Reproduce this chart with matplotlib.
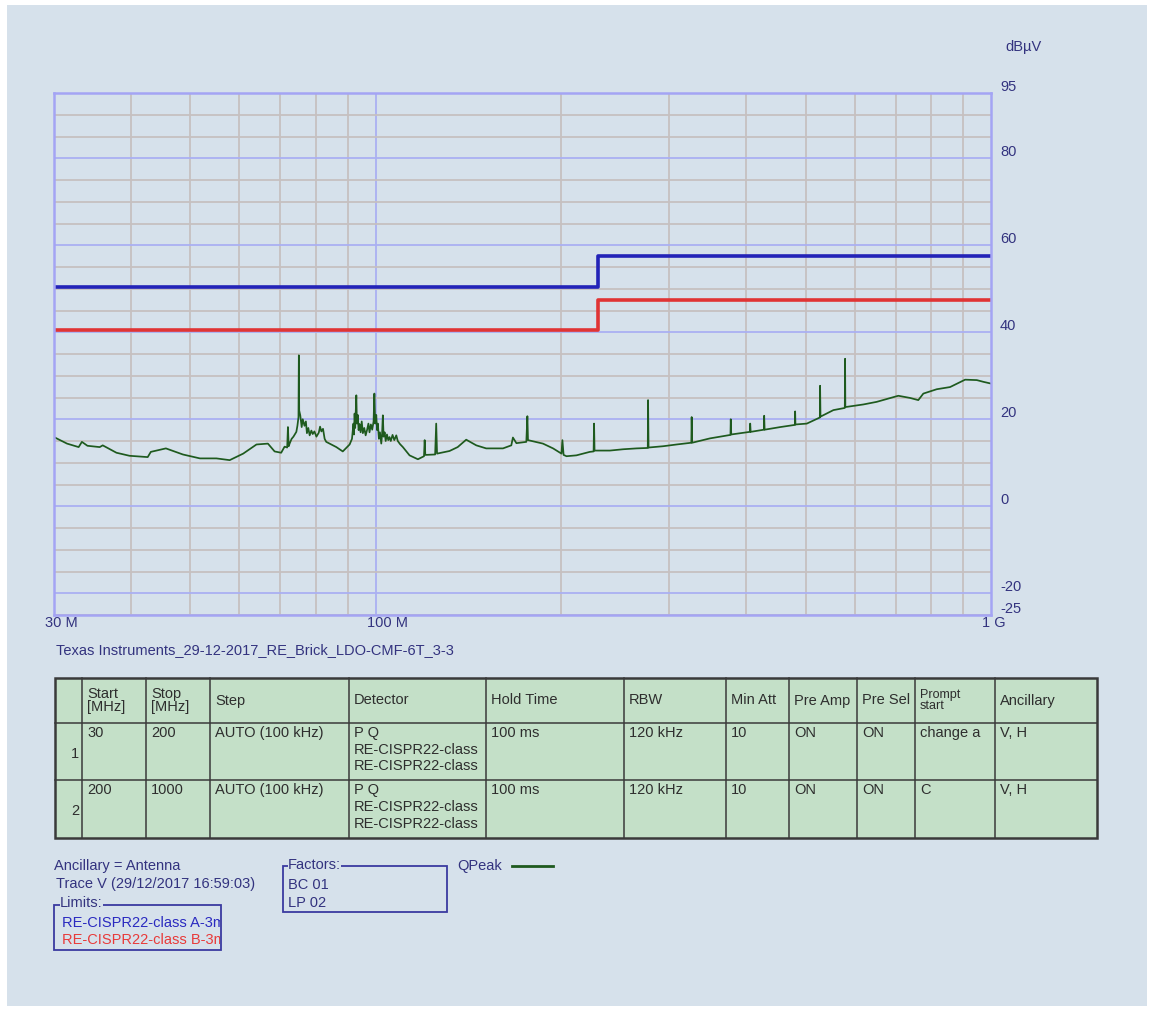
import matplotlib
matplotlib.use("Agg")
import matplotlib.pyplot as plt
from matplotlib.patches import Rectangle
from matplotlib.ticker import MultipleLocator, FixedLocator, NullFormatter
from matplotlib.transforms import blended_transform_factory, offset_copy

plt.rcParams['font.family'] = ['Liberation Sans Narrow', 'Liberation Sans', 'DejaVu Sans']

# QPeak trace (MHz, dBuV)
trace_freq = [30.0, 31.5, 32.9, 33.3, 34.0, 35.6, 36.0, 37.9, 39.8, 42.6, 43.1, 45.6, 48.6,
              51.8, 55.1, 57.9, 60.9, 64.0, 66.8, 68.5, 70.2, 71.1, 71.8, 72.0, 72.2, 72.5,
              73.0, 73.5, 74.3, 74.6, 74.9, 75.0, 75.1, 75.4, 75.8, 76.1, 76.6, 77.0, 77.3,
              77.7, 78.1, 78.6, 79.0, 79.5, 80.1, 80.8, 81.2, 81.6, 82.1, 82.6, 83.1,
              86.3, 88.4, 90.7, 91.5, 92.0, 92.2, 92.4, 92.6, 93.0, 93.2, 93.5, 93.8, 94.1,
              94.5, 94.9, 95.3, 95.8, 96.3, 96.8, 97.3, 97.7, 98.2, 98.7, 99.2, 99.5, 99.8,
              100.2, 100.5, 100.8, 101.2, 101.6, 102.1, 102.4, 102.7, 103.0, 103.4, 103.8,
              104.3, 104.8, 105.3, 105.8, 106.5, 107.2, 108.0, 108.6, 109.5, 110.7, 113.5,
              117.1, 119.8, 120.1, 120.4, 124.9, 125.4, 125.8, 131.8, 135.9, 140.3, 145.7,
              151.2, 161.0, 166.1, 167.1, 169.3, 175.7, 176.4, 176.8, 187.0, 194.2, 200.4,
              201.1, 202.0, 204.2, 211.9, 222.8, 226.0, 226.4, 226.8, 240.2, 252.4, 265.4,
              276.8, 277.1, 277.6, 293.3, 308.4, 325.8, 326.2, 326.8, 349.3, 377.2, 377.6,
              378.3, 405.6, 406.1, 406.8, 427.5, 427.9, 428.6, 454.3, 480.0, 480.5, 481.0,
              501.9, 527.0, 527.5, 528.3, 554.4, 578.6, 579.2, 579.8, 620.2, 652.0, 706.9,
              738.6, 761.8, 776.3, 816.2, 858.0, 907.7, 948.3, 972.0, 1000.0]
trace_level = [15.9, 14.4, 13.6, 14.8, 13.9, 13.6, 14.0, 12.3, 11.6, 11.3, 12.5, 13.3, 11.9,
               11.0, 11.0, 10.6, 12.1, 14.2, 14.4, 12.6, 12.3, 13.7, 13.5, 18.2, 13.8, 14.5,
               15.5, 16.0, 17.1, 18.5, 20.5, 34.7, 22.0, 20.9, 18.2, 20.0, 18.5, 19.5, 16.8,
               18.0, 16.3, 17.4, 16.6, 17.2, 16.0, 16.9, 18.3, 17.2, 17.8, 15.5, 14.8,
               13.6, 12.6, 14.2, 15.5, 19.0, 16.5, 21.3, 18.0, 25.5, 19.0, 21.0, 17.5, 18.9,
               17.0, 19.5, 16.8, 18.0, 16.3, 17.5, 19.0, 17.0, 18.8, 17.6, 19.5, 25.9, 19.0,
               21.0, 17.5, 19.0, 15.5, 17.0, 14.4, 16.5, 20.9, 16.0, 17.0, 15.0,
               16.5, 15.2, 15.9, 15.0, 16.4, 15.2, 16.3, 15.0, 14.3, 13.6, 11.7,
               10.8, 11.5, 15.2, 11.8, 11.9, 19.0, 12.1, 12.7, 13.6, 15.3, 14.0,
               13.3, 13.3, 14.0, 15.8, 14.5, 14.8, 20.7, 15.2, 14.4, 13.3, 12.1,
               15.2, 11.8, 11.5, 11.7, 12.5, 12.6, 19.0, 12.8, 12.8, 13.1, 13.3,
               13.4, 24.4, 13.5, 13.8, 14.2, 14.6, 20.5, 14.6, 15.6, 16.4, 20.0,
               16.5, 17.1, 19.0, 17.1, 17.6, 20.8, 17.6, 18.2, 18.7, 21.8, 18.8,
               19.0, 20.4, 27.7, 20.6, 22.1, 22.6, 33.9, 22.8, 23.4, 24.0, 25.4,
               24.9, 24.4, 25.9, 26.9, 27.4, 29.1, 29.0, 28.6, 28.2]

limit_freq = [30, 230, 230, 1000]
limit_a = [50.5, 50.5, 57.5, 57.5]
limit_b = [40.5, 40.5, 47.5, 47.5]

y_labels = [95, 80, 60, 40, 20, 0, -20, -25]
x_label_freq = [30, 100, 1000]
x_label_text = ["30 M", "100 M", "1 G"]

table_header = ["", "Start\n[MHz]", "Stop\n[MHz]", "Step", "Detector", "Hold Time", "RBW",
                "Min Att", "Pre Amp", "Pre Sel", "Prompt\nstart", "Ancillary"]
table_rows = [
    ["1", "30", "200", "AUTO (100 kHz)", "P Q\nRE-CISPR22-class\nRE-CISPR22-class", "100 ms",
     "120 kHz", "10", "ON", "ON", "change a", "V, H"],
    ["2", "200", "1000", "AUTO (100 kHz)", "P Q\nRE-CISPR22-class\nRE-CISPR22-class", "100 ms",
     "120 kHz", "10", "ON", "ON", "C", "V, H"],
]
col_edges = [55, 82, 146, 210, 349, 486, 624, 726, 789, 857, 915, 995, 1097]
row_edges = [678, 723, 780, 838]

bg = '#d6e1eb'
navy = '#33337f'
fs = 10.5

fig = plt.figure(figsize=(11.5, 10.09), dpi=100)
fig.patch.set_facecolor('white')

# overlay in pixel coordinates for the panel, table and legend boxes
ov = fig.add_axes([0, 0, 1, 1], zorder=0)
ov.set_xlim(0, 1150)
ov.set_ylim(1009, 0)
ov.axis('off')
ov.add_patch(Rectangle((7, 5), 1140, 1001, facecolor=bg, edgecolor='none'))

ax = fig.add_axes([54 / 1150, 1 - 615 / 1009, 937 / 1150, 522 / 1009], zorder=1)
ax.set_facecolor(bg)
ax.set_xscale('log')
ax.set_xlim(30, 1000)
ax.set_ylim(-25, 95)

ax.xaxis.set_major_locator(FixedLocator([100]))
ax.xaxis.set_minor_locator(FixedLocator([40, 50, 60, 70, 80, 90, 200, 300, 400, 500, 600, 700, 800, 900]))
ax.yaxis.set_major_locator(MultipleLocator(20))
ax.yaxis.set_minor_locator(MultipleLocator(5))
ax.xaxis.set_major_formatter(NullFormatter())
ax.xaxis.set_minor_formatter(NullFormatter())
ax.yaxis.set_major_formatter(NullFormatter())
ax.tick_params(which='both', length=0)
ax.grid(which='minor', color='#c6c0c0', lw=1.3)
ax.grid(which='major', color='#aab0f2', lw=1.3)
ax.set_axisbelow(True)
for s in ax.spines.values():
    s.set_color('#a4a4f4')
    s.set_linewidth(1.8)

ax.plot(limit_freq, limit_a, color='#2323b8', lw=2.6)
ax.plot(limit_freq, limit_b, color='#e03434', lw=2.6)
ax.plot(trace_freq, trace_level, color='#1e5a1e', lw=1.25)

# axis labels
ty = blended_transform_factory(ax.transAxes, ax.transData)
for v in y_labels:
    ax.text(1.0, v, str(v), transform=offset_copy(ty, fig=fig, x=9, y=6, units='dots'),
            ha='left', va='center', color=navy, fontsize=fs, clip_on=False)
tx = blended_transform_factory(ax.transData, ax.transAxes)
for f, t in zip(x_label_freq, x_label_text):
    ax.text(f, 0, t, transform=offset_copy(tx, fig=fig, x=-9, y=-8, units='dots'),
            ha='left', va='center', color=navy, fontsize=fs, clip_on=False)
ov.text(1005, 47, "dBµV", ha='left', va='center', color=navy, fontsize=fs)
ov.text(56, 650, "Texas Instruments_29-12-2017_RE_Brick_LDO-CMF-6T_3-3", ha='left', va='center',
        color=navy, fontsize=fs)

# settings table
ov.add_patch(Rectangle((col_edges[0], row_edges[0]), col_edges[-1] - col_edges[0],
                       row_edges[-1] - row_edges[0], facecolor='#c4e0c8', edgecolor='#3a3a3a', lw=1.8))
for xe in col_edges[1:-1]:
    ov.plot([xe, xe], [row_edges[0], row_edges[-1]], color='#3a3a3a', lw=1.1)
for ye in row_edges[1:-1]:
    ov.plot([col_edges[0], col_edges[-1]], [ye, ye], color='#3a3a3a', lw=1.1)
tc = '#2e2e2e'
for i, h in enumerate(table_header):
    ov.text(col_edges[i] + 5, (row_edges[0] + row_edges[1]) / 2, h, ha='left', va='center',
            color=tc, fontsize=9 if i == 10 else fs, linespacing=0.95)
for r, row in enumerate(table_rows):
    top = row_edges[r + 1]
    bot = row_edges[r + 2]
    ov.text(col_edges[1] - 3, (top + bot) / 2 + 2, row[0], ha='right', va='center', color=tc, fontsize=fs)
    for i, cell in enumerate(row[1:], start=1):
        ov.text(col_edges[i] + 5, top + 3, cell, ha='left', va='top', color=tc, fontsize=fs,
                linespacing=1.25)

# legend area
ov.text(54, 866, "Ancillary = Antenna", ha='left', va='center', color=navy, fontsize=fs)
ov.text(56, 884, "Trace V (29/12/2017 16:59:03)", ha='left', va='center', color=navy, fontsize=fs)

ov.add_patch(Rectangle((54, 905), 167, 45, facecolor='none', edgecolor='#3a3aa0', lw=1.3))
ov.text(60, 903, "Limits:", ha='left', va='center', color=navy, fontsize=fs,
        bbox=dict(facecolor=bg, edgecolor='none', pad=0))
t1 = ov.text(62, 923, "RE-CISPR22-class A-3m", ha='left', va='center', color='#2a2ac0', fontsize=fs)
t2 = ov.text(62, 940, "RE-CISPR22-class B-3m", ha='left', va='center', color='#e83a3a', fontsize=fs)
clip = Rectangle((54, 905), 166, 45, transform=ov.transData)
for t in (t1, t2):
    t.set_clip_on(True)
    t.set_clip_path(clip)

ov.add_patch(Rectangle((283, 866), 164, 46, facecolor='none', edgecolor='#3a3aa0', lw=1.3))
ov.text(288, 865, "Factors:", ha='left', va='center', color=navy, fontsize=fs,
        bbox=dict(facecolor=bg, edgecolor='none', pad=0))
ov.text(288, 885, "BC 01", ha='left', va='center', color=navy, fontsize=fs)
ov.text(288, 903, "LP 02", ha='left', va='center', color=navy, fontsize=fs)

ov.text(457, 866, "QPeak", ha='left', va='center', color=navy, fontsize=fs)
ov.plot([512, 553], [866, 866], color='#1e5a1e', lw=2)

fig.savefig('out.png', dpi=100, facecolor=fig.get_facecolor())
